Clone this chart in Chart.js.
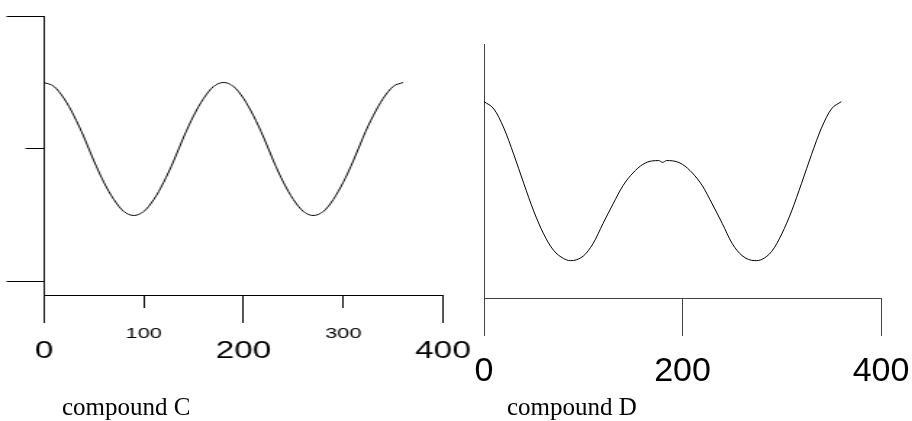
<!DOCTYPE html>
<html>
<head>
<meta charset="utf-8">
<title>compound C / compound D</title>
<script src="https://cdn.jsdelivr.net/npm/chart.js@4.4.1/dist/chart.umd.min.js"></script>
<style>
  body { margin: 0; background: #fff; }
  #wrap { position: relative; width: 912px; height: 421px; overflow: hidden; background: #fff; }
  canvas { position: absolute; top: 0; }
  /* the left plot in the original is drawn stretched sideways */
  #chartC { left: 0; transform: scaleX(1.45); transform-origin: 0 0; }
  #chartD { left: 456px; }
  .caption { position: absolute; top: 394px; font-family: "Liberation Serif", "Times New Roman", serif; font-size: 25px; line-height: 25px; white-space: nowrap; color: #000; }
</style>
</head>
<body>
<div id="wrap">
  <canvas id="chartC" width="330" height="421"></canvas>
  <canvas id="chartD" width="456" height="421"></canvas>
  <div class="caption" style="left:62px">compound C</div>
  <div class="caption" style="left:507px">compound D</div>
</div>
<script>
'use strict';

// compound C (left)
var angleC = [0, 10, 20, 30, 40, 50, 60, 70, 80, 90, 100, 110, 120, 130, 140, 150, 160, 170, 180,
   190, 200, 210, 220, 230, 240, 250, 260, 270, 280, 290, 300, 310, 320, 330, 340, 350, 360];
var energyC = [1.50, 1.47, 1.38, 1.25, 1.09, 0.91, 0.75, 0.62, 0.53, 0.50, 0.53, 0.62, 0.75, 0.91, 1.09, 1.25, 1.38, 1.47, 1.50,
   1.47, 1.38, 1.25, 1.09, 0.91, 0.75, 0.62, 0.53, 0.50, 0.53, 0.62, 0.75, 0.91, 1.09, 1.25, 1.38, 1.47, 1.50];
var xMajorTicksC = [0, 200, 400];
var xMinorTicksC = [100, 300];
var yMajorTicksC = [0, 2];
var yMinorTicksC = [1];

// compound D (right)
var angleD = [0, 10, 20, 30, 40, 50, 60, 70, 80, 87, 100, 110, 120, 130, 140, 150, 160, 170, 176, 180,
   184, 190, 200, 210, 220, 230, 240, 250, 260, 273, 280, 290, 300, 310, 320, 330, 340, 350, 360];
var energyD = [0.773, 0.744, 0.669, 0.565, 0.452, 0.343, 0.253, 0.188, 0.156, 0.147, 0.165, 0.215, 0.294, 0.370, 0.442, 0.492, 0.526, 0.540, 0.541, 0.534,
   0.541, 0.540, 0.526, 0.492, 0.442, 0.370, 0.294, 0.215, 0.167, 0.147, 0.152, 0.184, 0.252, 0.343, 0.452, 0.565, 0.669, 0.744, 0.773];
var xTicksD = [0, 200, 400];

var stretchC = 1.45;
var yMinC = -0.098;
var labelFont = "'Liberation Sans', Arial, sans-serif";

function toPoints(xs, ys) {
   var pts = [];
   xs.forEach(function(x, i) {
      pts.push({ x: x, y: ys[i] });
   });
   return pts;
}

function fixedTicks(values) {
   return function(axis) {
      axis.ticks = values.map(function(v) {
         return { value: v };
      });
   };
}

function curve(xs, ys) {
   return {
      data: toPoints(xs, ys),
      xAxisID: 'x',
      yAxisID: 'y',
      borderColor: '#000',
      borderWidth: 1,
      pointRadius: 0,
      fill: false,
      cubicInterpolationMode: 'monotone'
   };
}

// labelGap = distance from the tick end to the middle of the label.
// tick padding is kept at 0 (it widens the plot margins), the gap goes in the line height
function axis(dir, min, max, pos, ticks, len, color, border, fontSize, labelGap) {
   return {
      type: 'linear',
      axis: dir,
      min: min,
      max: max,
      position: pos,
      afterBuildTicks: fixedTicks(ticks),
      grid: { drawOnChartArea: false, drawTicks: len > 0, tickLength: len, color: color, lineWidth: 1 },
      border: { display: border, color: color, width: 1 },
      ticks: fontSize ? {
         display: true,
         autoSkip: false,
         maxRotation: 0,
         color: '#000',
         padding: 0,
         font: { family: labelFont, size: fontSize, lineHeight: (labelGap * 2) + 'px' }
      } : { display: false }
   };
}

var baseOptions = {
   responsive: false,
   animation: false,
   devicePixelRatio: 1,
   events: [],
   plugins: { legend: { display: false }, tooltip: { enabled: false } }
};

new Chart(document.getElementById('chartC'), {
   type: 'line',
   data: { datasets: [curve(angleC, energyC)] },
   options: Object.assign({}, baseOptions, {
      layout: { padding: { left: 44 / stretchC, right: 330 - 443 / stretchC, top: 16, bottom: 126 } },
      scales: {
         x: axis('x', 0, 400, { y: yMinC }, xMajorTicksC, 27, '#000', true, 23, 29.5),
         xMinor: axis('x', 0, 400, { y: yMinC }, xMinorTicksC, 13, '#000', false, 15, 25.5),
         y: axis('y', yMinC, 2, { x: 0 }, yMajorTicksC, 37 / stretchC, '#000', true, 0, 0),
         yMinor: axis('y', yMinC, 2, { x: 0 }, yMinorTicksC, 18 / stretchC, '#000', false, 0, 0)
      }
   })
});

new Chart(document.getElementById('chartD'), {
   type: 'line',
   data: { datasets: [curve(angleD, energyD)] },
   options: Object.assign({}, baseOptions, {
      layout: { padding: { left: 28, right: 31, top: 44, bottom: 123 } },
      scales: {
         x: axis('x', 0, 400, { y: 0 }, xTicksD, 37, '#444', true, 34, 37),
         y: axis('y', 0, 1, { x: 0 }, [], 0, '#444', true, 0, 0)
      }
   })
});
</script>
</body>
</html>
